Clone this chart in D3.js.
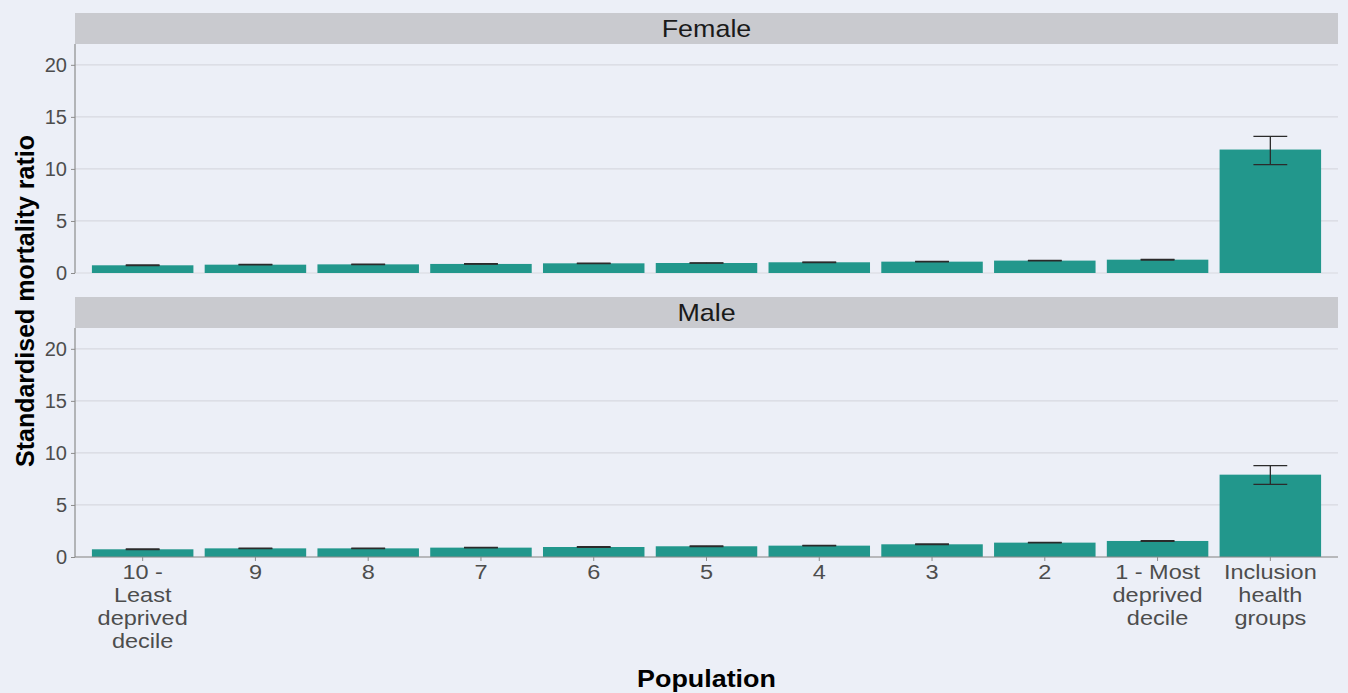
<!DOCTYPE html>
<html>
<head>
<meta charset="utf-8">
<script src="https://cdn.jsdelivr.net/npm/d3@7"></script>
<style>
  html, body { margin: 0; padding: 0; background: #eceff7; }
  svg { display: block; font-family: "Liberation Sans", Arial, sans-serif; }
</style>
</head>
<body>
<svg id="chart" width="1348" height="693"></svg>
<script>
// Population groups along the x axis
const categories = ["10 - Least deprived decile", "9", "8", "7", "6", "5", "4", "3", "2",
  "1 - Most deprived decile", "Inclusion health groups"];
// Wrapped x tick labels, one entry per category
const tickLabels = [["10 -", "Least", "deprived", "decile"], ["9"], ["8"], ["7"], ["6"], ["5"],
  ["4"], ["3"], ["2"], ["1 - Most", "deprived", "decile"], ["Inclusion", "health", "groups"]];

const panels = ["Female", "Male"];

// Standardised mortality ratios with confidence limits
const femaleSMR   = [0.74, 0.80, 0.83, 0.87, 0.93, 0.96, 1.03, 1.09, 1.19, 1.28, 11.86];
const femaleLower = [0.71, 0.78, 0.81, 0.85, 0.91, 0.94, 1.01, 1.07, 1.16, 1.25, 10.41];
const femaleUpper = [0.77, 0.82, 0.85, 0.89, 0.95, 0.98, 1.05, 1.11, 1.22, 1.31, 13.13];

const maleSMR   = [0.74, 0.83, 0.83, 0.90, 0.96, 1.03, 1.09, 1.22, 1.38, 1.54, 7.91];
const maleLower = [0.71, 0.81, 0.81, 0.88, 0.93, 1.00, 1.06, 1.19, 1.35, 1.50, 6.98];
const maleUpper = [0.77, 0.85, 0.85, 0.92, 0.99, 1.06, 1.12, 1.25, 1.41, 1.58, 8.78];

const yTicks = [0, 5, 10, 15, 20];

const seriesByPanel = {
  Female: { value: femaleSMR, lower: femaleLower, upper: femaleUpper },
  Male:   { value: maleSMR,   lower: maleLower,   upper: maleUpper }
};

const svg = d3.select("#chart");
const left = 75, right = 1338;
const stripH = 31;
const panelTops = [13, 297];     // top of each facet strip
const panelH = 229;
const widen = 1.12;              // horizontal text stretch

// Discrete x scale with ggplot-style 0.6 unit expansion on each side
const step = (right - left) / (categories.length + 0.2);
const x = d3.scaleBand()
  .domain(categories)
  .range([left + 0.6 * step - step / 2, right - 0.6 * step + step / 2])
  .paddingInner(0.1)
  .paddingOuter(0.05);
const barW = x.bandwidth();
const xc = c => x(c) + barW / 2;

const fill = "#22978c";
const gridCol = "#d7d9e0";
const axisCol = "#8c8c8c";
const tickTextCol = "#4d4d4d";

panels.forEach((name, pi) => {
  const stripTop = panelTops[pi];
  const top = stripTop + stripH;
  const bottom = top + panelH;
  const y = d3.scaleLinear().domain([0, 22]).range([bottom, top]);
  const g = svg.append("g");

  // facet strip
  g.append("rect").attr("x", left).attr("y", stripTop)
    .attr("width", right - left).attr("height", stripH).attr("fill", "#c9cacf");
  g.append("text")
    .attr("transform", `translate(${(left + right) / 2},${stripTop + stripH / 2 + 8}) scale(${widen},1)`)
    .attr("text-anchor", "middle").attr("font-size", 24).attr("fill", "#1a1a1a").text(name);

  // horizontal gridlines
  g.selectAll("line.grid").data(yTicks).join("line")
    .attr("class", "grid")
    .attr("x1", left).attr("x2", right)
    .attr("y1", d => y(d)).attr("y2", d => y(d))
    .attr("stroke", gridCol).attr("stroke-width", 1.2);

  // y axis
  const yAxis = g.append("g").attr("transform", `translate(${left},0)`)
    .call(d3.axisLeft(y).tickValues(yTicks).tickSize(4).tickPadding(4));
  yAxis.select(".domain").attr("stroke", axisCol).attr("stroke-width", 1.2)
    .attr("d", `M0,${top}V${bottom}`);
  yAxis.selectAll(".tick line").attr("stroke", axisCol);
  yAxis.selectAll(".tick text").attr("font-size", 20).attr("fill", tickTextCol)
    .attr("font-family", "Liberation Sans, Arial, sans-serif");

  const s = seriesByPanel[name];

  // bars
  g.selectAll("rect.bar").data(categories).join("rect")
    .attr("class", "bar")
    .attr("x", c => x(c))
    .attr("width", barW)
    .attr("y", (c, i) => y(s.value[i]))
    .attr("height", (c, i) => y(0) - y(s.value[i]))
    .attr("fill", fill);

  // error bars
  const capW = 0.3 * step;
  const eb = g.selectAll("g.err").data(categories).join("g").attr("class", "err")
    .attr("stroke", "#2b2b2b").attr("stroke-width", 1.3);
  eb.append("line")
    .attr("x1", c => xc(c)).attr("x2", c => xc(c))
    .attr("y1", (c, i) => y(s.lower[i])).attr("y2", (c, i) => y(s.upper[i]));
  eb.append("line")
    .attr("x1", c => xc(c) - capW / 2).attr("x2", c => xc(c) + capW / 2)
    .attr("y1", (c, i) => y(s.upper[i])).attr("y2", (c, i) => y(s.upper[i]));
  eb.append("line")
    .attr("x1", c => xc(c) - capW / 2).attr("x2", c => xc(c) + capW / 2)
    .attr("y1", (c, i) => y(s.lower[i])).attr("y2", (c, i) => y(s.lower[i]));

  // x axis only below the last panel
  if (pi === panels.length - 1) {
    const xAxis = g.append("g").attr("transform", `translate(0,${bottom})`)
      .call(d3.axisBottom(x).tickSize(4).tickFormat(""));
    xAxis.select(".domain").attr("stroke", axisCol).attr("stroke-width", 1.2)
      .attr("d", `M${left},0H${right}`);
    xAxis.selectAll(".tick line").attr("stroke", axisCol);
    xAxis.selectAll(".tick").each(function (c, i) {
      const t = d3.select(this).append("text")
        .attr("transform", `scale(${widen},1)`)
        .attr("text-anchor", "middle").attr("font-size", 21).attr("fill", tickTextCol)
        .attr("font-family", "Liberation Sans, Arial, sans-serif");
      tickLabels[i].forEach((line, li) => {
        t.append("tspan").attr("x", 0).attr("y", 22 + li * 23).text(line);
      });
    });
  }
});

// axis titles
svg.append("text")
  .attr("transform", `translate(34,301) rotate(-90)`)
  .attr("text-anchor", "middle").attr("font-size", 25).attr("font-weight", "bold")
  .attr("fill", "#000").text("Standardised mortality ratio");

svg.append("text")
  .attr("transform", `translate(${(left + right) / 2},687) scale(${widen},1)`)
  .attr("text-anchor", "middle").attr("font-size", 24).attr("font-weight", "bold")
  .attr("fill", "#000").text("Population");
</script>
</body>
</html>
